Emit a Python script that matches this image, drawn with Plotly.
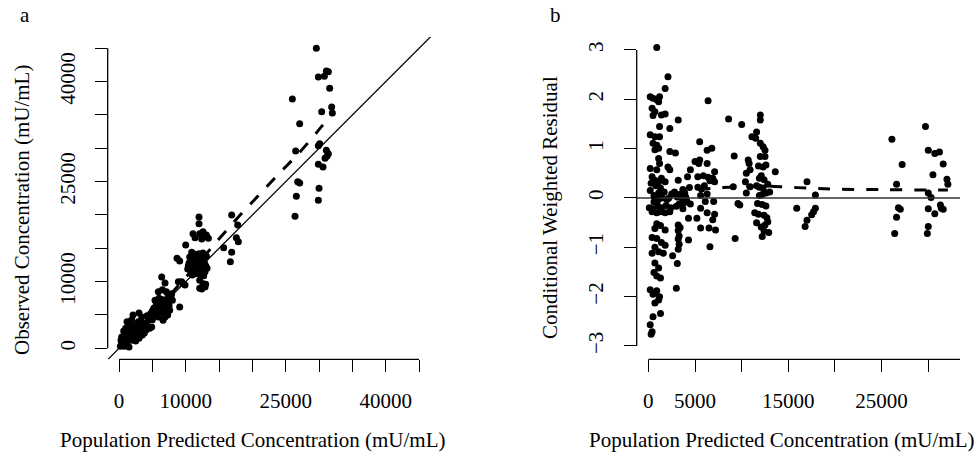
import plotly.graph_objects as go

# panel a: population predicted vs observed (mU/mL)
pred_a = [29600, 29900, 30800, 31100, 31400, 31600, 26000, 31900, 30400, 32000, 27100, 30100, 29900, 31100,
          31400, 30900, 31200, 26500, 29900, 30600, 26800, 27100, 30000, 26600, 29900, 26400,
          16900, 17800, 17600, 17900, 15700, 16900, 16700,
          12000, 12000, 11100, 12100, 12600, 13100, 13400, 12400, 11400, 10000, 8700, 9100, 10600, 10900,
          10500, 10800, 11000, 11200, 11400, 11600, 11800, 11900, 12200, 12400, 12600, 12800, 13000, 11100,
          11500, 11900, 12300, 12700, 10700, 10300, 11300, 12100, 12500, 11700, 12900, 13200, 10400, 11000,
          12000, 12600, 13100, 11400, 10900,
          12100, 12600, 12900, 12100, 13000, 12400, 9400, 9900, 6400, 9100, 6900, 8900, 9600,
          5900, 7100, 6500, 7400, 5400, 6000, 6600, 7200, 7800, 5600, 6200, 6800, 7500, 5200, 5800, 6400,
          7000, 7600, 6100, 6700, 5500, 7300, 6900, 6600, 5900, 6300, 7900, 8000, 5000,
          200, 400, 600, 800, 500, 900, 1200, 1000, 1400, 1300, 1700, 1600, 2000, 2100, 2400, 2600, 2900,
          2800, 3200, 3400, 3600, 3900, 4200, 4400, 4600, 4900, 5000, 1200, 1600, 2300, 3000, 3500, 700,
          400, 1100, 1900, 2500, 3800, 4100, 2700, 1900, 3300, 4700, 4200, 1500, 300, 800, 1000, 2200, 3000]
obs_a = [45000, 40700, 40800, 41600, 41500, 39000, 37400, 36200, 35500, 35300, 33700, 30700, 30400, 29700,
         29200, 28500, 28800, 29600, 27600, 27200, 25000, 24800, 24000, 22800, 22200, 19800,
         20000, 18500, 16600, 16000, 15100, 14400, 13000,
         19700, 18700, 17200, 17200, 17500, 17000, 16500, 16400, 16600, 15500, 13500, 13100, 13700, 13200,
         12800, 12400, 13000, 12100, 12700, 13300, 12000, 12600, 13100, 12300, 11800, 12900, 12400, 11500,
         11200, 11400, 11000, 10900, 11700, 11900, 12200, 12000, 13600, 13800, 11500, 12000, 12400, 11000,
         14200, 14300, 13800, 14100, 14400,
         10200, 9700, 9200, 9000, 9600, 8900, 10000, 9500, 10700, 6200, 9800, 10000, 9700,
         8500, 8500, 8800, 7900, 7200, 7500, 7300, 7100, 7600, 6600, 6800, 6500, 6400, 6000, 6200, 5900,
         5800, 5700, 5400, 5300, 5100, 5000, 4700, 4200, 4700, 6300, 8200, 7200, 5600,
         300, 800, 400, 1200, 1600, 600, 1000, 2000, 1500, 2600, 2000, 3500, 2400, 5000, 2800, 3200, 4000,
         2200, 3000, 4700, 2600, 3700, 3400, 4200, 3000, 3200, 4300, 4000, 3000, 1800, 1500, 2000, 2600,
         1700, 500, 1200, 1100, 2300, 2800, 3600, 4300, 3900, 5200, 4900, 200, 1200, 300, 3000, 3300, 5300]
smooth_a_x = [300, 3000, 6000, 9000, 12000, 15000, 18000, 21000, 24000, 27000, 30000, 32000]
smooth_a_y = [300, 3100, 6200, 9500, 12900, 16400, 19800, 23000, 26200, 29300, 32800, 35300]

# panel b: population predicted vs CWRES
pred_b = [900, 2100, 1800, 200, 500, 900, 1200, 1100, 400, 700, 1400, 1800, 500, 3200, 2300, 1200, 200, 700,
          1200, 500, 900, 700, 1100, 2300, 2900, 200, 1200, 1100, 2100, 2300, 900, 400, 700, 1100, 1800,
          1400, 3200, 200, 600, 1100, 1500, 800, 1300, 2000, 2500, 2800, 3100, 3400, 3700, 100, 500, 1000,
          1400, 1900, 2400, 3000, 3300, 3800, 400, 900, 1300, 1800, 2300, 900, 1300, 1800, 700,
          3200, 3400, 3200, 3300, 3200, 3300, 3200, 400, 900, 1400, 1800, 700, 400, 1100, 1600, 2600, 700,
          1100, 600, 900, 1300, 3100, 3000, 200, 700, 1200, 500, 900, 1100, 700, 1300, 500, 200, 400, 300,
          300, 800, 1300, 600, 1700, 2200, 1000,
          4200, 4400, 3900, 4100, 4500, 3700, 4300, 4300, 4000, 3600,
          5500, 6400, 6300, 6800, 5000, 5400, 5500, 6300, 5300, 5900, 6400, 6900, 6600, 7100, 7100, 5300,
          6000, 5700, 6300, 5600, 6100, 7000, 5600, 6300, 7100, 6900, 5200, 5600, 6500, 7200, 6600, 4500,
          8600, 10000, 9200, 9100, 9600, 9800, 9300,
          11100, 10700, 10800, 10500, 10900, 10400, 10900, 10500, 12000, 12000, 11600, 11500, 12000, 12300,
          12500, 12000, 12500, 11800, 12300, 12600, 11900, 12400, 12100, 11600, 11900, 12300, 12800, 13000,
          12200, 12600, 11900, 13600, 11700, 12200, 12600, 11800, 12400, 12700, 12800, 12100, 12400, 12200,
          12900, 11600, 12500, 11400,
          17000, 17900, 17900, 17700, 17500, 17000, 16800, 15900,
          26100, 27200, 26600, 26800, 27000, 26600, 26400,
          29700, 30000, 30700, 31200, 31600, 30500, 32000, 32100, 30000, 30300, 30000, 31300, 31400, 31600,
          30700, 30000, 29900]
cwres_b = [3.05, 2.46, 2.22, 2.05, 2.02, 1.99, 2.05, 1.95, 1.82, 1.75, 1.68, 1.70, 1.67, 1.58, 1.41, 1.45,
           1.28, 1.24, 1.24, 1.11, 1.07, 0.98, 1.01, 0.94, 0.91, 0.60, 0.70, 0.80, 0.63, 0.57, 0.57, 0.43,
           0.36, 0.33, 0.33, 0.40, 0.36, 0.15, 0.05, 0.10, 0.0, -0.02, 0.05, -0.03, 0.08, 0.12, 0.02, 0.05,
           0.17, -0.20, -0.22, -0.16, -0.20, -0.15, -0.20, -0.17, -0.12, -0.10, -0.28, -0.30, -0.28, -0.30,
           -0.28, -0.52, -0.56, -0.65, -0.62,
           -0.55, -0.60, -0.66, -0.77, -0.83, -0.94, -1.04, -0.80, -0.82, -0.90, -0.96, -1.00, -1.12, -1.09,
           -1.12, -1.17, -1.32, -1.42, -1.51, -1.58, -1.62, -1.33, -1.83, -1.86, -1.92, -2.00, -1.95, -1.88,
           -2.07, -2.13, -2.34, -2.41, -2.57, -2.71, -2.76,
           0.30, 0.25, 0.20, -0.08, 0.12, 0.0, -0.05,
           0.43, 0.21, 0.10, -0.05, -0.12, -0.22, -0.41, -0.85, 0.02, 0.0,
           1.14, 1.97, 0.97, 1.01, 0.74, 0.70, 0.77, 0.70, 0.43, 0.45, 0.42, 0.40, 0.35, 0.53, 0.33, 0.22,
           0.25, 0.18, 0.08, 0.05, -0.07, -0.07, -0.21, -0.30, -0.33, -0.44, -0.41, -0.61, -0.61, -0.65,
           -0.99, 0.57,
           1.60, 1.49, 0.85, 0.23, -0.11, -0.14, -0.82,
           1.24, 0.77, 0.70, 0.50, 0.57, 0.33, 0.23, 0.10, 1.68, 1.58, 1.34, 1.21, 1.11, 1.04, 0.97, 0.84,
           0.84, 0.65, 0.63, 0.67, 0.40, 0.37, 0.45, 0.25, 0.22, 0.20, 0.28, 0.12, 0.07, 0.10, 0.05, 0.53,
           -0.11, -0.13, -0.16, -0.33, -0.35, -0.40, -0.48, -0.59, -0.67, -0.78, -0.70, -0.50, -0.55, -0.30,
           0.33, 0.06, -0.21, -0.28, -0.34, -0.45, -0.58, -0.21,
           1.19, 0.68, 0.28, -0.20, -0.23, -0.39, -0.72,
           1.45, 0.97, 0.90, 0.93, 0.69, 0.47, 0.38, 0.28, 0.10, 0.01, -0.22, -0.14, -0.21, -0.23, -0.32,
           -0.58, -0.72]
smooth_b_x = [300, 2000, 4000, 6000, 8000, 10000, 12000, 14000, 17000, 20000, 25000, 30000, 32100]
smooth_b_y = [0.0, 0.07, 0.13, 0.18, 0.21, 0.23, 0.24, 0.23, 0.20, 0.18, 0.17, 0.16, 0.16]

ticks_a = list(range(0, 45001, 5000))
labels_a = ["0", "", "10000", "", "", "25000", "", "", "40000", ""]
ticks_b = list(range(0, 30001, 5000))
labels_b = ["0", "5000", "", "15000", "", "25000", ""]

xr_a = [-1700, 46950]
yr_a = [-1650, 46700]
xr_b = [-1250, 33400]
yr_b = [-3.27, 3.243]

FONT = "Liberation Serif"
fs = 21

fig = go.Figure()

dot = dict(color="black", size=7)
fig.add_trace(go.Scatter(x=pred_a, y=obs_a, mode="markers", marker=dot, xaxis="x", yaxis="y"))
fig.add_trace(go.Scatter(x=xr_a, y=xr_a, mode="lines", line=dict(color="black", width=1.3), xaxis="x", yaxis="y"))
fig.add_trace(go.Scatter(x=smooth_a_x, y=smooth_a_y, mode="lines", line=dict(color="black", width=3, dash="12px,12px", shape="spline"), xaxis="x", yaxis="y"))

fig.add_trace(go.Scatter(x=pred_b, y=cwres_b, mode="markers", marker=dot, xaxis="x2", yaxis="y2"))
fig.add_trace(go.Scatter(x=xr_b, y=[0, 0], mode="lines", line=dict(color="#333", width=1.5), xaxis="x2", yaxis="y2"))
fig.add_trace(go.Scatter(x=smooth_b_x, y=smooth_b_y, mode="lines", line=dict(color="black", width=3, dash="12px,12px", shape="spline"), xaxis="x2", yaxis="y2"))

ax = dict(showgrid=False, zeroline=False, showline=False, ticks="outside", ticklen=12, tickwidth=1.3,
          tickcolor="black", tickfont=dict(family=FONT, size=fs, color="black"), tickmode="array")

fig.update_layout(
    width=979, height=466, margin=dict(l=0, r=0, t=0, b=0),
    paper_bgcolor="white", plot_bgcolor="white", showlegend=False,
    xaxis=dict(ax, domain=[107.7 / 979, 432 / 979], range=xr_a, tickvals=ticks_a, ticktext=labels_a,
               anchor="y", ticklabelstandoff=10),
    yaxis=dict(ax, domain=[(466 - 359.3) / 466, (466 - 37) / 466], range=yr_a, tickvals=ticks_a,
               ticktext=labels_a, tickangle=-90, anchor="x", ticklabelstandoff=11),
    xaxis2=dict(ax, domain=[636.7 / 979, 960 / 979], range=xr_b, tickvals=ticks_b, ticktext=labels_b,
                anchor="y2", ticklabelstandoff=10),
    yaxis2=dict(ax, domain=[(466 - 359.3) / 466, (466 - 38) / 466], range=yr_b, tickmode="linear",
                tick0=-3, dtick=1, tickangle=-90, anchor="x2", ticklabelstandoff=12),
)

# R-style axis lines that only run between the end ticks
axline = dict(color="black", width=1.3)
fig.add_shape(type="line", xref="x", yref="y domain", x0=0, x1=45000, y0=0, y1=0, line=axline)
fig.add_shape(type="line", xref="x domain", yref="y", x0=0, x1=0, y0=0, y1=45000, line=axline)
fig.add_shape(type="line", xref="x2", yref="y2 domain", x0=0, x1=xr_b[1], y0=0, y1=0, line=axline)
fig.add_shape(type="line", xref="x2 domain", yref="y2", x0=0, x1=0, y0=-3, y1=3, line=axline)

tfont = dict(family=FONT, size=fs, color="black")
ann = [
    ("a", 25, 15, 0), ("b", 555, 15, 0),
    ("Population Predicted Concentration (mU/mL)", 253, 440, 0),
    ("Population Predicted Concentration (mU/mL)", 782, 440, 0),
    ("Observed Concentration (mU/mL)", 22, 210, -90),
    ("Conditional Weighted Residual", 550, 208, -90),
]
for txt, px, py, ang in ann:
    fig.add_annotation(text=txt, xref="paper", yref="paper", x=px / 979, y=1 - py / 466,
                       xanchor="center", yanchor="middle", showarrow=False, textangle=ang, font=tfont)

# drop the default 8px body margin so the figure sits at the window corner
fig.write_html("out.html", config={"displayModeBar": False},
               post_script="document.body.style.margin='0';document.body.style.overflow='hidden';")
